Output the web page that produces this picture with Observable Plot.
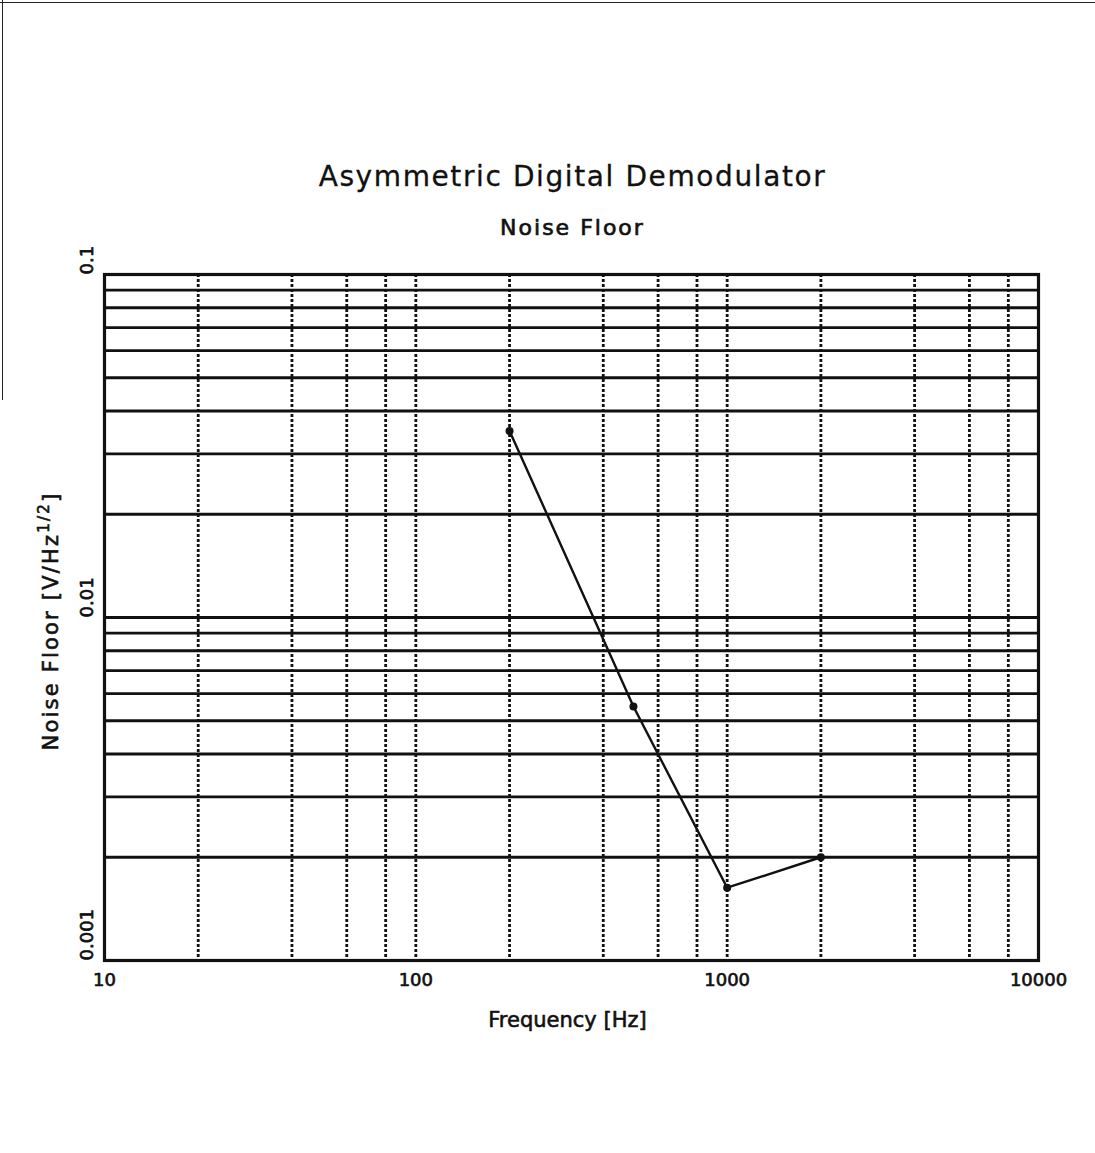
<!DOCTYPE html>
<html><head><meta charset="utf-8">
<script src="https://cdn.jsdelivr.net/npm/d3@7"></script>
<script src="https://cdn.jsdelivr.net/npm/@observablehq/plot@0.6"></script>
<style>
body{margin:0;background:#fff;font-family:"DejaVu Sans",sans-serif;}
#page{position:relative;width:1095px;height:1153px;overflow:hidden;}
#edgeTop{position:absolute;left:0;top:2px;width:1095px;border-top:1.5px solid #222;}
#edgeLeft{position:absolute;left:2px;top:0;height:400px;border-left:1.5px solid #222;}
#title{position:absolute;left:0;width:1095px;top:160px;text-align:center;font-size:28px;letter-spacing:1.6px;color:#111;padding-left:50px;box-sizing:border-box;z-index:2;-webkit-text-stroke:0.3px #111;}
#subtitle{position:absolute;left:0;width:1095px;top:215px;text-align:center;font-size:22px;letter-spacing:2px;color:#111;padding-left:50px;box-sizing:border-box;z-index:2;-webkit-text-stroke:0.7px #111;}
#chart{position:absolute;left:0;top:200px;}
</style></head>
<body><div id="page">
<div id="edgeTop"></div><div id="edgeLeft"></div>
<div id="chart"></div>
<div id="title">Asymmetric Digital Demodulator</div>
<div id="subtitle">Noise Floor</div>
</div>
<script>
const freq = [200, 500, 1000, 2000];
const noise = [0.035, 0.0055, 0.00163, 0.002];
const xTicks = [10, 100, 1000, 10000];
const yTicks = [0.001, 0.01, 0.1];
const xGrid = [20, 40, 60, 80, 100, 200, 400, 600, 800, 1000, 2000, 4000, 6000, 8000];
const yGrid = [0.002, 0.003, 0.004, 0.005, 0.006, 0.007, 0.008, 0.009, 0.01,
               0.02, 0.03, 0.04, 0.05, 0.06, 0.07, 0.08, 0.09];
const xLabel = "Frequency [Hz]";
const yLabel = "Noise Floor [V/Hz";

const data = freq.map((f, i) => ({f, n: noise[i]}));

const chart = Plot.plot({
  width: 1095,
  height: 860,
  marginLeft: 104,
  marginRight: 57,
  marginTop: 74,
  marginBottom: 100,
  style: {fontFamily: "DejaVu Sans, sans-serif", color: "#111", background: "transparent"},
  x: {type: "log", domain: [10, 10000], axis: null},
  y: {type: "log", domain: [0.001, 0.1], axis: null},
  marks: [
    Plot.ruleY(yGrid, {y: d => d, stroke: "#111", strokeWidth: 2.8}),
    Plot.ruleX(xGrid, {x: d => d, stroke: "#111", strokeWidth: 2.8, strokeDasharray: "3,2"}),
    Plot.frame({stroke: "#111", strokeWidth: 3.2}),
    Plot.line(data, {x: "f", y: "n", stroke: "#111", strokeWidth: 2.4}),
    Plot.dot(data, {x: "f", y: "n", r: 4, fill: "#111", stroke: "none"}),
    Plot.text(xTicks, {x: d => d, frameAnchor: "bottom", dy: 25, text: d => String(d),
      fontSize: 18, fill: "#111", stroke: "#111", strokeWidth: 0.7, letterSpacing: 1}),
    Plot.text(yTicks, {y: d => d, frameAnchor: "left", dx: -17, rotate: -90, text: d => String(d),
      fontSize: 18, fill: "#111", stroke: "#111", strokeWidth: 0.7, letterSpacing: 2}),
    Plot.text([xLabel], {frameAnchor: "bottom", dy: 66, dx: -4, text: d => d, fontSize: 21,
      fill: "#111", stroke: "#111", strokeWidth: 0.6, letterSpacing: 1.8})
  ]
});
document.getElementById("chart").appendChild(chart);

// y axis label with superscript, added into the svg via d3
const svg = d3.select(chart);
const t = svg.append("text")
  .attr("transform", "translate(58," + (74 + 686/2 + 4) + ") rotate(-90)")
  .attr("text-anchor", "middle")
  .attr("font-size", 21)
  .attr("letter-spacing", 2.2)
  .attr("fill", "#111")
  .attr("stroke", "#111")
  .attr("stroke-width", 0.6)
  .attr("font-family", "DejaVu Sans, sans-serif");
t.append("tspan").text(yLabel);
t.append("tspan").attr("dy", -9).attr("font-size", 15).text("1/2");
t.append("tspan").attr("dy", 9).text("]");
</script>
</body></html>
